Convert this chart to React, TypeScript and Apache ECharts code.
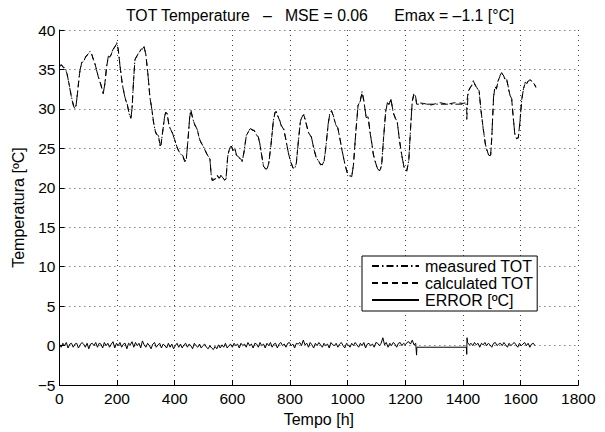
import React, { useEffect, useRef } from "react";
import * as echarts from "echarts";

const titleText =
  "TOT Temperature\u00A0\u00A0\u00A0–\u00A0\u00A0\u00A0MSE = 0.06\u00A0\u00A0\u00A0\u00A0\u00A0\u00A0Emax = –1.1 [°C]";
const xLabel = "Tempo [h]";
const yLabel = "Temperatura [ºC]";
const legendNames = ["measured TOT", "calculated TOT", "ERROR [ºC]"];

// [hour, °C]
const measured: [number, number][] = [
  [0,35.5],[8,35.6],[14,35.2],[19,35.3],[26,34.6],[34,33.0],[42,31.5],[50,30.3],[54,30.0],[58,30.4],
  [64,32.5],[70,34.6],[77,35.9],[84,36.0],[92,36.7],[100,36.9],[106,37.3],[112,37.0],[118,36.2],[121,36.1],
  [128,35.0],[136,34.0],[144,33.0],[152,32.0],[158,33.2],[164,35.5],[170,36.7],[176,36.5],[183,37.3],[190,37.8],
  [196,38.0],[199,38.4],[204,37.6],[210,35.5],[218,33.2],[228,31.3],[236,30.5],[243,29.2],[248,28.9],[252,30.0],
  [257,33.5],[262,36.3],[268,36.6],[276,37.2],[284,37.5],[290,37.7],[294,37.9],[300,36.8],[308,34.0],[314,31.5],
  [320,30.1],[326,28.5],[332,27.2],[337,26.8],[344,26.6],[349,25.3],[352,25.4],[358,27.0],[364,28.8],[369,29.7],
  [374,29.3],[380,28.0],[386,27.3],[392,27.0],[400,26.0],[408,25.2],[414,24.6],[420,24.3],[428,24.0],[435,23.3],
  [440,23.6],[446,26.0],[452,29.0],[456,29.9],[462,28.8],[470,28.0],[478,27.4],[486,26.2],[494,25.5],[500,25.2],
  [508,24.5],[516,24.0],[522,23.8],[526,21.8],[530,20.9],[536,21.0],[542,21.2],[548,21.5],[554,21.1],[560,21.6],
  [566,21.3],[572,20.9],[578,21.2],[584,24.0],[590,25.0],[596,25.3],[602,24.8],[608,25.0],[614,24.1],[620,24.0],
  [628,23.6],[634,23.3],[640,24.5],[648,26.5],[656,27.2],[662,27.5],[668,27.4],[676,27.2],[684,26.7],[690,26.4],
  [696,25.5],[702,24.0],[708,22.8],[714,22.4],[720,22.4],[726,23.0],[734,25.5],[742,28.5],[748,29.5],[752,29.7],
  [758,29.0],[764,28.6],[770,27.8],[778,27.5],[786,26.0],[794,24.5],[802,23.3],[810,22.6],[816,22.4],[822,23.2],
  [828,25.5],[836,28.5],[842,29.0],[848,29.3],[854,28.4],[860,27.6],[866,26.8],[874,26.5],[882,25.0],[890,24.0],
  [898,23.4],[906,23.0],[912,22.9],[918,23.4],[924,25.0],[932,28.0],[938,29.5],[944,29.7],[950,29.2],[958,28.0],
  [966,27.6],[974,26.0],[982,24.5],[990,23.0],[998,22.0],[1006,21.5],[1014,21.5],[1020,22.8],[1028,27.0],[1036,30.5],
  [1044,31.0],[1050,32.2],[1056,31.0],[1064,29.0],[1071,28.9],[1078,27.0],[1084,25.5],[1089,24.3],[1096,23.2],[1104,22.4],
  [1112,22.1],[1118,23.0],[1124,26.0],[1132,29.8],[1138,30.8],[1144,30.5],[1150,31.3],[1158,29.5],[1166,28.8],[1172,28.3],
  [1180,26.0],[1188,24.0],[1196,22.6],[1205,22.1],[1212,23.5],[1218,27.5],[1224,31.0],[1230,32.0],[1235,31.6],[1239,30.6],
  [1413,30.6],[1413,28.5],[1418,32.2],[1424,32.6],[1430,33.0],[1436,33.6],[1442,33.0],[1448,32.7],[1456,32.2],[1462,30.0],
  [1470,27.5],[1478,25.5],[1484,24.6],[1490,24.1],[1496,24.1],[1500,26.5],[1506,31.5],[1511,32.8],[1516,32.6],[1522,33.5],
  [1528,34.2],[1534,34.6],[1540,34.2],[1546,33.8],[1551,33.8],[1556,33.0],[1562,31.8],[1569,31.3],[1574,29.0],[1580,26.8],
  [1586,26.2],[1592,26.4],[1598,28.5],[1604,31.3],[1610,32.5],[1616,33.4],[1622,33.2],[1628,33.7],[1634,33.6],[1640,33.5],
  [1646,33.2],[1653,32.8],
];

const calculated: [number, number][] = [
  [0,35.4],[8,35.5],[14,35.3],[19,35.2],[26,34.5],[34,33.1],[42,31.4],[50,30.2],[54,30.1],[58,30.5],
  [64,32.4],[70,34.5],[77,35.8],[84,36.1],[92,36.6],[100,37.0],[106,37.2],[112,36.9],[118,36.3],[121,36.0],
  [128,35.1],[136,33.9],[144,33.1],[152,31.9],[158,33.3],[164,35.4],[170,36.6],[176,36.6],[183,37.2],[190,37.7],
  [196,38.1],[199,38.3],[204,37.5],[210,35.6],[218,33.1],[228,31.4],[236,30.4],[243,29.3],[248,28.8],[252,30.1],
  [257,33.4],[262,36.2],[268,36.7],[276,37.1],[284,37.6],[290,37.6],[294,37.8],[300,36.9],[308,34.1],[314,31.4],
  [320,30.2],[326,28.4],[332,27.3],[337,26.7],[344,26.5],[349,25.4],[352,25.3],[358,27.1],[364,28.7],[369,29.6],
  [374,29.4],[380,27.9],[386,27.4],[392,26.9],[400,26.1],[408,25.1],[414,24.7],[420,24.2],[428,24.1],[435,23.4],
  [440,23.5],[446,26.1],[452,28.9],[456,29.8],[462,28.9],[470,27.9],[478,27.5],[486,26.1],[494,25.6],[500,25.1],
  [508,24.6],[516,23.9],[522,23.7],[526,21.9],[530,21.0],[536,21.1],[542,21.1],[548,21.6],[554,21.2],[560,21.5],
  [566,21.4],[572,21.0],[578,21.1],[584,24.1],[590,24.9],[596,25.4],[602,24.7],[608,25.1],[614,24.2],[620,23.9],
  [628,23.7],[634,23.4],[640,24.4],[648,26.6],[656,27.1],[662,27.6],[668,27.3],[676,27.3],[684,26.6],[690,26.5],
  [696,25.4],[702,24.1],[708,22.7],[714,22.5],[720,22.3],[726,23.1],[734,25.4],[742,28.4],[748,29.6],[752,29.6],
  [758,29.1],[764,28.5],[770,27.9],[778,27.4],[786,26.1],[794,24.4],[802,23.4],[810,22.5],[816,22.5],[822,23.1],
  [828,25.6],[836,28.4],[842,29.1],[848,29.2],[854,28.5],[860,27.5],[866,26.9],[874,26.4],[882,25.1],[890,23.9],
  [898,23.5],[906,22.9],[912,23.0],[918,23.3],[924,25.1],[932,27.9],[938,29.4],[944,29.8],[950,29.1],[958,28.1],
  [966,27.5],[974,26.1],[982,24.4],[990,23.1],[998,21.9],[1006,21.6],[1014,21.4],[1020,22.9],[1028,26.9],[1036,30.4],
  [1044,31.1],[1050,32.1],[1056,31.1],[1064,28.9],[1071,29.0],[1078,26.9],[1084,25.6],[1089,24.2],[1096,23.3],[1104,22.3],
  [1112,22.2],[1118,22.9],[1124,26.1],[1132,29.7],[1138,30.7],[1144,30.6],[1150,31.2],[1158,29.6],[1166,28.7],[1172,28.4],
  [1180,25.9],[1188,24.1],[1196,22.5],[1205,22.2],[1212,23.4],[1218,27.4],[1224,30.9],[1230,31.9],[1235,31.7],[1239,30.8],
  [1262,30.7],[1290,30.5],[1318,30.8],[1346,30.6],[1374,30.8],[1400,30.7],[1413,30.8],[1418,32.1],[1424,32.7],[1430,32.9],
  [1436,33.5],[1442,33.1],[1448,32.6],[1456,32.3],[1462,29.9],[1470,27.6],[1478,25.4],[1484,24.7],[1490,24.0],[1496,24.2],
  [1500,26.4],[1506,31.4],[1511,32.9],[1516,32.5],[1522,33.6],[1528,34.1],[1534,34.5],[1540,34.3],[1546,33.7],[1551,33.9],
  [1556,32.9],[1562,31.9],[1569,31.2],[1574,29.1],[1580,26.7],[1586,26.3],[1592,26.3],[1598,28.6],[1604,31.2],[1610,32.6],
  [1616,33.3],[1622,33.3],[1628,33.6],[1634,33.7],[1640,33.4],[1646,33.3],[1653,32.7],
];

// error sampled every 6 h from hour 0 to 1236
const errorStartA = 0;
const errorStepA = 6;
const errorA: number[] = [
  0.2,-0.2,0.3,0.0,0.4,-0.3,0.2,0.3,-0.2,0.2,
  0.3,-0.3,0.1,0.4,0.2,-0.2,0.3,-0.4,0.2,0.3,
  0.0,0.4,-0.2,0.3,0.2,-0.3,0.4,0.0,0.3,-0.2,
  0.2,0.5,-0.3,0.3,0.0,0.4,-0.2,0.2,0.3,-0.4,
  0.3,0.1,0.5,-0.2,0.4,0.0,0.3,-0.3,0.6,0.1,
  -0.2,0.3,0.0,-0.4,0.2,0.4,-0.2,0.1,0.3,-0.3,
  0.2,0.0,-0.3,0.3,-0.2,0.2,-0.4,0.0,0.3,-0.2,
  0.2,-0.3,0.1,0.3,-0.2,0.2,0.0,-0.4,0.3,0.0,
  -0.2,0.2,-0.3,0.0,0.2,-0.2,-0.4,0.0,-0.3,-0.5,
  -0.1,-0.4,0.1,-0.3,0.1,-0.2,0.3,-0.3,0.0,0.2,
  -0.2,0.3,0.0,0.2,-0.3,0.3,0.0,0.2,-0.2,0.4,
  0.0,0.2,-0.3,0.3,0.2,-0.2,0.4,0.0,0.2,-0.3,
  0.3,0.0,0.4,-0.2,0.2,0.3,-0.3,0.2,0.4,0.0,
  0.2,-0.2,0.3,0.4,0.0,0.2,-0.3,0.3,0.2,0.4,
  0.0,0.7,0.1,0.3,-0.2,0.4,0.1,-0.3,0.3,0.0,
  0.4,0.1,-0.2,0.3,0.0,0.2,-0.3,0.4,0.1,0.0,
  0.3,-0.2,0.2,0.4,0.0,-0.3,0.3,0.1,-0.2,0.3,
  0.0,0.4,0.1,-0.2,0.3,0.0,0.4,-0.3,0.2,0.3,
  0.0,0.2,-0.2,0.4,0.3,0.0,0.3,1.0,0.1,0.4,
  -0.2,0.3,0.0,0.4,0.2,-0.2,0.3,0.4,0.0,0.3,
  0.1,0.4,0.5,0.2,0.7,0.1,0.3,
];
// the gap between the two records
const errorGap: [number, number][] = [
  [1239,-1.2],[1240,-0.2],[1412,-0.2],[1413,-1.1],[1414,1.0],
];
// error sampled every 6 h from hour 1416
const errorStartB = 1416;
const errorStepB = 6;
const errorB: number[] = [
  0.4,0.1,0.3,0.0,0.4,0.1,0.3,-0.2,0.3,0.1,
  0.4,0.0,0.3,0.1,-0.2,0.3,0.4,0.0,0.2,0.3,
  0.0,0.4,0.1,-0.2,0.3,0.0,0.2,0.4,0.1,-0.2,
  0.3,0.0,0.2,0.4,0.0,0.3,-0.2,0.2,0.3,0.0,
];

const FONT = "'Liberation Sans', Arial, Helvetica, sans-serif";

export default function App() {
  const ref = useRef<HTMLDivElement>(null);
  useEffect(() => {
    if (!ref.current) return;
    const chart = echarts.init(ref.current, undefined, { renderer: "svg" });
    const errorData: [number, number][] = [
      ...errorA.map((v, i) => [errorStartA + i * errorStepA, v] as [number, number]),
      ...errorGap,
      ...errorB.map((v, i) => [errorStartB + i * errorStepB, v] as [number, number]),
    ];
    const fmtNeg = (v: number) => (v < 0 ? "\u2212" + Math.abs(v) : String(v));
    chart.setOption({
      animation: false,
      backgroundColor: "#fff",
      textStyle: { fontFamily: FONT, color: "#000" },
      title: {
        text: titleText,
        left: 121,
        top: 2,
        textStyle: { fontFamily: FONT, fontSize: 15.8, fontWeight: "normal", color: "#000" },
      },
      grid: { left: 59.4, right: 26.7, top: 30, bottom: 38.3 },
      legend: {
        orient: "vertical",
        left: 362,
        top: 256,
        data: legendNames,
        backgroundColor: "#fff",
        borderColor: "#000",
        borderWidth: 1,
        borderRadius: 0,
        padding: [2, 4, 3, 9],
        itemWidth: 47,
        itemHeight: 12,
        itemGap: 1,
        itemStyle: { opacity: 0 },
        textStyle: { fontFamily: FONT, fontSize: 16, color: "#000", padding: [0, 0, 0, 1] },
      },
      xAxis: {
        type: "value",
        min: 0,
        max: 1800,
        interval: 200,
        name: xLabel,
        nameLocation: "middle",
        nameGap: 24,
        nameTextStyle: { fontFamily: FONT, fontSize: 16, color: "#000" },
        axisLine: { show: true, onZero: false, lineStyle: { color: "#000", width: 1 } },
        axisTick: { show: true, inside: true, length: 5, lineStyle: { color: "#000" } },
        axisLabel: { fontFamily: FONT, fontSize: 15.5, color: "#000", margin: 5, formatter: (v: number) => String(v) },
        splitLine: { show: true, lineStyle: { color: "#444", width: 1, type: [1, 4] } },
      },
      yAxis: {
        type: "value",
        min: -5,
        max: 40,
        interval: 5,
        name: yLabel,
        nameLocation: "middle",
        nameGap: 32,
        nameTextStyle: { fontFamily: FONT, fontSize: 16, color: "#000" },
        axisLine: { show: true, onZero: false, lineStyle: { color: "#000", width: 1 } },
        axisTick: { show: true, inside: true, length: 5, lineStyle: { color: "#000" } },
        axisLabel: { fontFamily: FONT, fontSize: 15.5, color: "#000", margin: 4, formatter: fmtNeg },
        splitLine: { show: true, lineStyle: { color: "#444", width: 1, type: [1, 4] } },
      },
      series: [
        {
          name: legendNames[0],
          type: "line",
          data: measured,
          showSymbol: false,
          symbol: "none",
          lineStyle: { color: "#000", width: 1, type: [7, 3, 1.5, 3] },
          itemStyle: { color: "#000" },
        },
        {
          name: legendNames[1],
          type: "line",
          data: calculated,
          showSymbol: false,
          symbol: "none",
          lineStyle: { color: "#000", width: 1, type: [6, 4] },
          itemStyle: { color: "#000" },
        },
        {
          name: legendNames[2],
          type: "line",
          data: errorData,
          showSymbol: false,
          symbol: "none",
          lineStyle: { color: "#000", width: 1, type: "solid" },
          itemStyle: { color: "#000" },
        },
      ],
    });
    return () => chart.dispose();
  }, []);
  return (
    <div
      ref={ref}
      style={{ position: "absolute", left: 0, top: 0, width: 605, height: 432 }}
    />
  );
}
